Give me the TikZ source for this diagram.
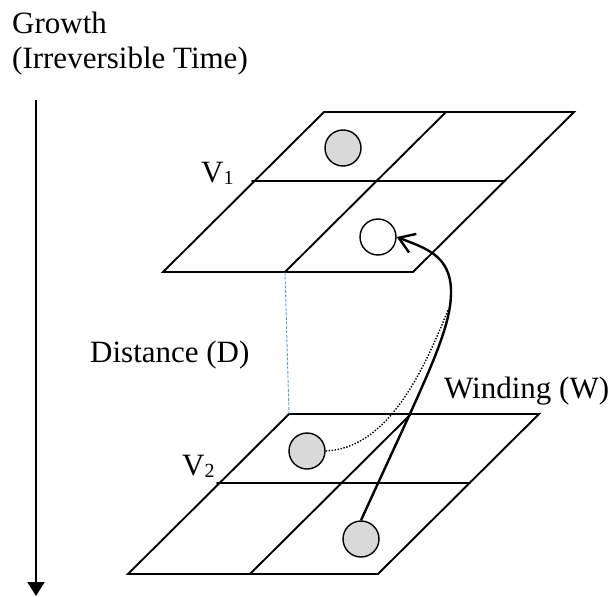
\documentclass[tikz,border=0pt]{standalone}
\usepackage{fontspec}
\setmainfont{Liberation Serif}
\usepackage{tikz}
\usetikzlibrary{arrows.meta}

\newcommand{\subidx}[1]{\lower2pt\hbox{\fontsize{20}{20}\selectfont #1}}

\begin{document}
\begin{tikzpicture}[x=1pt, y=-1pt,
  gridline/.style={line width=1.9pt, line cap=round},
  ball/.style={circle, draw, line width=1.4pt, fill=gray!30, minimum size=36pt, inner sep=0pt},
  hole/.style={circle, draw, line width=1.4pt, fill=white, minimum size=36pt, inner sep=0pt},
  lbl/.style={anchor=base west, inner sep=0pt, font=\fontsize{31}{36}\selectfont}]
  \useasboundingbox (0,0) rectangle (616,597);

  % ----- Time axis -----
  \node[lbl] (growth) at (12,34) {Growth};
  \node[lbl] (irrev) at (12,68) {(Irreversible Time)};
  \coordinate (tTop) at (36,100);
  \coordinate (tEnd) at (36,596);
  \draw[line width=2pt, -{Triangle[length=14pt, width=17pt]}] (tTop) -- (tEnd);

  % ----- Two lattice planes -----
  \foreach \px/\py/\nm in {163/272/vone, 128/574/vtwo} {
    \begin{scope}[shift={(\px,\py)}]
      \coordinate (\nm-bl) at (0,0);
      \coordinate (\nm-br) at (250,0);
      \coordinate (\nm-tr) at (411,-160);
      \coordinate (\nm-tl) at (161,-160);
      \coordinate (\nm-mb) at (122,0);
      \draw[gridline] (\nm-bl) -- (\nm-br) -- (\nm-tr) -- (\nm-tl) -- cycle;
      % inner cross
      \draw[gridline] (89,-91) -- (342,-91);
      \draw[gridline] (\nm-mb) -- (283,-160);
    \end{scope}
  }

  % Distance between the planes
  \draw[line width=0.9pt, color={rgb,255:red,91;green,155;blue,213}, dash pattern=on 3pt off 1.5pt]
    (vone-mb) -- (vtwo-tl);

  % ----- Labels -----
  \node[lbl] (v1) at (201,182) {V\subidx{1}};
  \node[lbl] (v2) at (182,475) {V\subidx{2}};
  \node[lbl] (dist) at (90,362) {Distance (D)};
  \node[lbl] (wind) at (444,398) {Winding (W)};

  % ----- Sites -----
  \node[ball] (c1) at (343,148) {};
  \node[hole] (c2) at (378,237) {};
  \node[ball] (c3) at (307,451) {};
  \node[ball] (c4) at (361,539) {};

  % Winding path
  \coordinate (merge) at (448,310);
  \draw[line width=2.4pt, -{Straight Barb[length=15pt, width=20pt]}]
    (c4.north) .. controls (425,380) and (452,330) .. (451,290)
    .. controls (450,255) and (425,248) .. (c2.east);
  \draw[line width=1.4pt, dash pattern=on 1.4pt off 1.6pt]
    (c3.east) .. controls (385,448) and (420,380) .. (merge);
\end{tikzpicture}
\end{document}
